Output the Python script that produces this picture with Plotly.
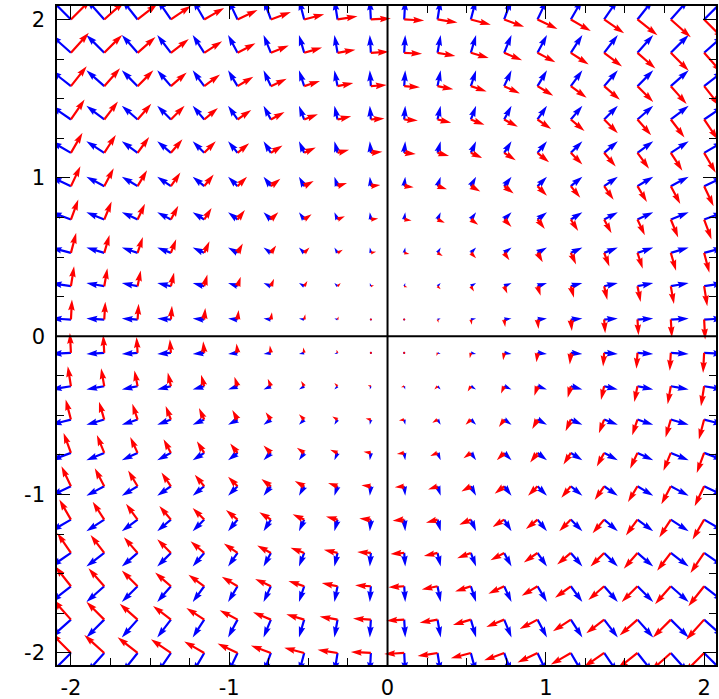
import math
import plotly.graph_objects as go

# ---- data -------------------------------------------------------------
# sample positions of the vector field (20 points per axis, -2 .. 2)
GRID = [-2.0, -1.7895, -1.5789, -1.3684, -1.1579, -0.9474, -0.7368, -0.5263,
        -0.3158, -0.1053, 0.1053, 0.3158, 0.5263, 0.7368, 0.9474, 1.1579,
        1.3684, 1.5789, 1.7895, 2.0]

# field components: blue = (x, y), red = (y, -x)
def blue_field(x, y):
    return x, y

def red_field(x, y):
    return y, -x

TICK_VALS = [-2, -1, 0, 1, 2]
TICK_TEXT = ["-2", "-1", "0", "1", "2"]
MINOR_VALS = [v / 4 for v in range(-8, 9) if v % 4 != 0]

# ---- styling ----------------------------------------------------------
X_RANGE = [-2.088, 2.075]
Y_RANGE = [-2.076, 2.085]
PPU = 158.3            # pixels per data unit
PX_PER_MAG = 10.0      # arrow length (px) per unit of magnitude
W = 2.2                # shaft width px
HW, HL, HAL = 3.0, 5.0, 4.5


def arrow_polys(field):
    xs, ys = [], []
    for gx in GRID:
        for gy in GRID:
            u, v = field(gx, gy)
            mag = math.hypot(u, v)
            L = mag * PX_PER_MAG / W
            ang = math.atan2(v, u)
            if L < 1.0:
                pts = [(0.5 * math.cos(k * math.pi / 3), 0.5 * math.sin(k * math.pi / 3))
                       for k in range(7)]
            elif L < HL:
                s = L / HL
                X = [0, HL - HAL, 0, HL, 0, HL - HAL, 0, 0]
                Y = [0.5, 0.5, HW / 2, 0, -HW / 2, -0.5, -0.5, 0.5]
                pts = [(s * a, s * b) for a, b in zip(X, Y)]
            else:
                X = [0, L - HAL, L - HL, L, L - HL, L - HAL, 0, 0]
                Y = [0.5, 0.5, HW / 2, 0, -HW / 2, -0.5, -0.5, 0.5]
                pts = list(zip(X, Y))
            c, s_ = math.cos(ang), math.sin(ang)
            for a, b in pts:
                px = (a * c - b * s_) * W
                py = (a * s_ + b * c) * W
                xs.append(gx + px / PPU)
                ys.append(gy + py / PPU)
            xs.append(None)
            ys.append(None)
    return xs, ys


fig = go.Figure()
for field, color in [(blue_field, "#0000ff"), (red_field, "#ff0000")]:
    xs, ys = arrow_polys(field)
    fig.add_trace(go.Scatter(x=xs, y=ys, mode="lines", fill="toself",
                             fillcolor=color, line=dict(width=0, color=color),
                             hoverinfo="skip"))

fig.add_shape(type="line", xref="x", yref="paper", x0=0, x1=0, y0=0, y1=1,
              line=dict(color="black", width=2), layer="above")
fig.add_shape(type="line", xref="paper", yref="y", x0=0, x1=1, y0=0, y1=0,
              line=dict(color="black", width=2), layer="above")

axis_common = dict(
    tickmode="array", tickvals=TICK_VALS, ticktext=TICK_TEXT,
    ticks="inside", ticklen=13, tickwidth=1, tickcolor="black",
    showline=True, linecolor="black", linewidth=1.5, mirror="allticks",
    showgrid=False, zeroline=False, automargin=False,
    minor=dict(tickmode="array", tickvals=MINOR_VALS, ticks="inside",
               ticklen=7, tickwidth=1, tickcolor="black", showgrid=False),
    tickfont=dict(family="DejaVu Sans", size=21, color="black"),
)
fig.update_xaxes(range=X_RANGE, ticklabelstandoff=3, **axis_common)
fig.update_yaxes(range=Y_RANGE, ticklabelstandoff=6, **axis_common)

fig.update_layout(width=719, height=699,
                  margin=dict(l=57, r=3, t=6, b=34, pad=0),
                  plot_bgcolor="white", paper_bgcolor="white",
                  showlegend=False)

fig.write_html("out.html", config={"displayModeBar": False},
               post_script="document.body.style.margin='0';document.body.style.overflow='hidden';")
